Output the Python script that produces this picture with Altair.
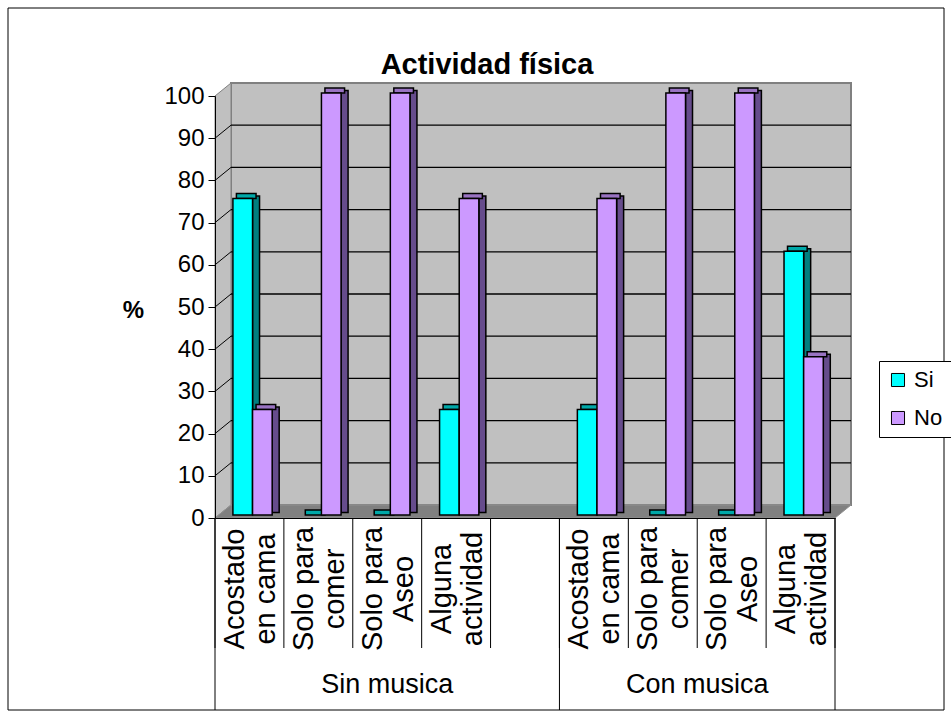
import altair as alt
import pandas as pd

# ---------------- data ----------------
title_text = "Actividad física"
groups = ["Sin musica", "Con musica"]
activities = ["Acostado\nen cama", "Solo para\ncomer", "Solo para\nAseo", "Alguna\nactividad"]
series = ["Si", "No"]
si_values = [75, 0, 0, 25, 25, 0, 0, 62.5]
no_values = [25, 100, 100, 75, 75, 100, 100, 37.5]
y_ticks = list(range(0, 101, 10))

# ---------------- layout / style ----------------
FONT = "Liberation Sans"
W, H = 620, 422
PAD_L, PAD_T = 215, 96
CHART_W, CHART_H = 951, 716
N_SLOTS = len(activities) * len(groups) + 1          # one empty slot between groups
PX_PER_SLOT = W / N_SLOTS
WALL_DX_PX, WALL_DY_PX = 16, 13
DXu = WALL_DX_PX / PX_PER_SLOT
DYu = WALL_DY_PX * 100 / H
BAR_START = {"Si": 0.26, "No": 0.545}
BAR_W = 0.285
BAR_DX, BAR_DY, BAR_SHIFT = 7, 5, 3

FRONT = ["#00FFFF", "#CC99FF"]
SIDE = {"Si": "#008080", "No": "#664C8C"}
TOP = {"Si": "#00A8A8", "No": "#9973C2"}

rows = []
for gi, g in enumerate(groups):
    for ai, a in enumerate(activities):
        k = gi * len(activities) + ai
        for s, vals in zip(series, [si_values, no_values]):
            rows.append({"group": g, "activity": a, "series": s, "value": vals[k],
                         "slot": gi * (len(activities) + 1) + ai})
df = pd.DataFrame(rows)

xs = alt.Scale(domain=[0, N_SLOTS], nice=False, zero=False)
ys = alt.Scale(domain=[0, 100], nice=False, zero=True)

x_axis = alt.Axis(labels=False, ticks=False, grid=False, domainColor="black",
                  domainWidth=1, title=None, zindex=1)
y_axis = alt.Axis(values=y_ticks, grid=False, domainColor="black", tickColor="black",
                  tickSize=7, labelFontSize=24, labelFont=FONT, labelColor="black",
                  labelPadding=4, labelFlush=False, labelOverlap=False,
                  title="%", titleAngle=0, titleFontSize=24, titleFontWeight="bold",
                  titleFont=FONT, titleColor="black",
                  titleX=133 - PAD_L, titleY=310 - PAD_T, titleAlign="center",
                  titleBaseline="middle", zindex=1)

one = pd.DataFrame({"k": [0]})

# back wall
back_wall = alt.Chart(one).mark_rect(fill="#C0C0C0", stroke="#808080", strokeWidth=2).encode(
    x=alt.X(datum=DXu, type="quantitative", scale=xs, axis=x_axis),
    x2=alt.datum(N_SLOTS + DXu),
    y=alt.Y(datum=DYu, type="quantitative", scale=ys, axis=y_axis),
    y2=alt.datum(100 + DYu),
)

# left wall (parallelogram)
left_df = pd.DataFrame({"x": [0, DXu], "y": [0, DYu], "y2": [100, 100 + DYu]})
left_wall = alt.Chart(left_df).mark_area(fill="#C0C0C0", stroke="#808080", strokeWidth=1).encode(
    x=alt.X("x:Q", scale=xs), y=alt.Y("y:Q", scale=ys), y2="y2:Q")

# floor (parallelogram)
floor_df = pd.DataFrame({"x": [0, DXu, N_SLOTS, N_SLOTS + DXu],
                         "y": [0, 0, 0, DYu], "y2": [0, DYu, DYu, DYu]})
floor = alt.Chart(floor_df).mark_area(fill="#808080", stroke="#909090", strokeWidth=1).encode(
    x=alt.X("x:Q", scale=xs), y=alt.Y("y:Q", scale=ys), y2="y2:Q")

grid_df = pd.DataFrame({"v": y_ticks[1:-1]})
back_grid = alt.Chart(grid_df).transform_calculate(vb=f"datum.v + {DYu}").mark_rule(
    color="black", strokeWidth=1.3).encode(
    x=alt.datum(DXu), x2=alt.datum(N_SLOTS + DXu), y=alt.Y("vb:Q", scale=ys))
side_grid = alt.Chart(grid_df).transform_calculate(vb=f"datum.v + {DYu}").mark_rule(
    color="black", strokeWidth=1).encode(
    x=alt.datum(0), x2=alt.datum(DXu), y=alt.Y("v:Q", scale=ys), y2="vb:Q")

bars = alt.Chart(df).transform_calculate(
    x0=f"datum.slot + (datum.series == 'Si' ? {BAR_START['Si']} : {BAR_START['No']})",
).transform_calculate(
    x1=f"datum.x0 + {BAR_W}",
    side_c=f"datum.series == 'Si' ? '{SIDE['Si']}' : '{SIDE['No']}'",
    top_c=f"datum.series == 'Si' ? '{TOP['Si']}' : '{TOP['No']}'",
)

side = bars.transform_filter("datum.value > 0").mark_rect(
    stroke="black", strokeWidth=1.5, x2Offset=BAR_DX,
    yOffset=-BAR_SHIFT - BAR_DY / 2, y2Offset=-BAR_SHIFT - BAR_DY / 2).encode(
    x=alt.X("x1:Q", scale=xs), x2="x1:Q",
    y=alt.Y("value:Q", scale=ys), y2=alt.datum(0),
    color=alt.Color("side_c:N", scale=None))

top = bars.mark_rect(
    stroke="black", strokeWidth=1.5, xOffset=BAR_DX / 2, x2Offset=BAR_DX / 2,
    yOffset=-BAR_SHIFT, y2Offset=-BAR_SHIFT - BAR_DY).encode(
    x=alt.X("x0:Q", scale=xs), x2="x1:Q",
    y=alt.Y("value:Q", scale=ys), y2=alt.Y2("value:Q"),
    color=alt.Color("top_c:N", scale=None))

front = bars.transform_filter("datum.value > 0").mark_rect(
    stroke="black", strokeWidth=1.5, yOffset=-BAR_SHIFT, y2Offset=-BAR_SHIFT).encode(
    x=alt.X("x0:Q", scale=xs), x2="x1:Q",
    y=alt.Y("value:Q", scale=ys), y2=alt.datum(0),
    color=alt.Color("series:N", scale=alt.Scale(domain=series, range=FRONT),
                    legend=alt.Legend(title=None, orient="none",
                                      legendX=879 - PAD_L, legendY=361 - PAD_T,
                                      symbolType="square", symbolSize=170,
                                      symbolStrokeColor="black", symbolStrokeWidth=1,
                                      labelFontSize=22, labelFont=FONT, labelColor="black",
                                      labelOffset=5, strokeColor="black", fillColor="white",
                                      padding=8, rowPadding=16)),
)

# category slot boundaries and labels
cat_df = df[df["series"] == "Si"][["group", "activity", "slot"]].reset_index(drop=True)
edges = sorted(set(list(cat_df["slot"]) + list(cat_df["slot"] + 1)))
group_edges = [0, len(activities) + 1, N_SLOTS]
edge_df = pd.DataFrame({"e": edges})
short_ticks = alt.Chart(edge_df).mark_rule(color="black", strokeWidth=1).encode(
    x=alt.X("e:Q", scale=xs), y=alt.value(H), y2=alt.value(H + 130))
long_ticks = alt.Chart(pd.DataFrame({"e": group_edges})).mark_rule(color="black", strokeWidth=1).encode(
    x=alt.X("e:Q", scale=xs), y=alt.value(H), y2=alt.value(CHART_H - 6 - PAD_T))

cat_labels = alt.Chart(cat_df).transform_calculate(xc="datum.slot + 0.29").mark_text(
    angle=270, align="center", baseline="middle", lineBreak="\n", fontSize=29,
    lineHeight=31, font=FONT, color="black").encode(
    x=alt.X("xc:Q", scale=xs), y=alt.value(H + 71), text="activity:N")

grp_df = pd.DataFrame({"group": groups,
                       "c": [(group_edges[0] + group_edges[1]) / 2, (group_edges[1] + group_edges[2]) / 2]})
grp_labels = alt.Chart(grp_df).mark_text(fontSize=27, font=FONT, color="black", baseline="middle").encode(
    x=alt.X("c:Q", scale=xs), y=alt.value(H + 167), text="group:N")

title = alt.Chart(pd.DataFrame({"t": [title_text]})).mark_text(
    fontSize=29, fontWeight="bold", font=FONT, color="black", baseline="alphabetic",
    align="center").encode(
    x=alt.value(487 - PAD_L), y=alt.value(74 - PAD_T), text="t:N")

border = alt.Chart(one).mark_rect(fill=None, stroke="black", strokeWidth=1).encode(
    x=alt.value(8 - PAD_L), x2=alt.value(CHART_W - 7 - PAD_L),
    y=alt.value(8 - PAD_T), y2=alt.value(CHART_H - 6 - PAD_T))

chart = alt.layer(
    back_wall, left_wall, floor, back_grid, side_grid, side, top, front,
    short_ticks, long_ticks, cat_labels, grp_labels, title, border
).properties(
    width=W, height=H,
    autosize=alt.AutoSizeParams(type="none"),
    padding={"left": PAD_L, "top": PAD_T, "right": CHART_W - PAD_L - W,
             "bottom": CHART_H - PAD_T - H},
).configure_view(stroke=None).configure(font=FONT, background="white")

chart.save("out.html", embed_options={"renderer": "svg", "actions": False})
